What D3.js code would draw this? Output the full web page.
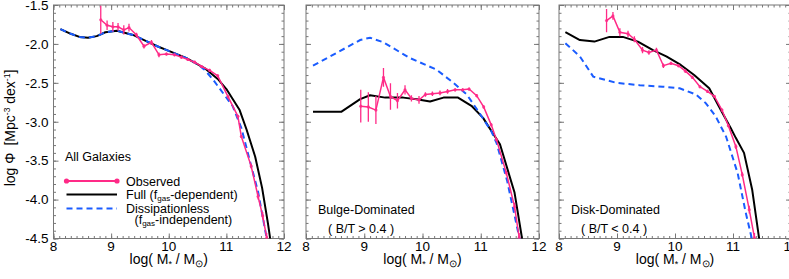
<!DOCTYPE html>
<html><head><meta charset="utf-8">
<script src="https://cdn.jsdelivr.net/npm/d3@7/dist/d3.min.js"></script>
<style>
html,body{margin:0;padding:0;background:#fff;}
svg text{font-family:"Liberation Sans",Arial,Helvetica,sans-serif;fill:#000;}
</style></head>
<body><svg id="c" width="789" height="279"></svg>
<script>
// ---------- data ----------
const xTicks = [8, 9, 10, 11, 12];
const yTicks = [-1.5, -2.0, -2.5, -3.0, -3.5, -4.0, -4.5];
const panelLabels = [["All Galaxies"], ["Bulge-Dominated", "( B/T > 0.4 )"], ["Disk-Dominated", "( B/T < 0.4 )"]];

// All galaxies
const fullAllX = [8.12, 8.3, 8.45, 8.6, 8.75, 8.9, 9.1, 9.38, 9.6, 9.8, 10.0, 10.3, 10.62, 10.85, 11.0, 11.23, 11.35, 11.5, 11.62, 11.72, 11.77];
const fullAllY = [-1.81, -1.87, -1.91, -1.92, -1.90, -1.85, -1.83, -1.885, -1.96, -2.03, -2.09, -2.18, -2.31, -2.45, -2.58, -2.85, -3.1, -3.45, -3.85, -4.3, -4.55];
const dissAllX = [8.12, 8.3, 8.45, 8.6, 8.75, 8.9, 9.1, 9.38, 9.6, 9.8, 10.0, 10.3, 10.5, 10.62, 10.77, 11.11, 11.26, 11.4, 11.55, 11.7];
const dissAllY = [-1.81, -1.87, -1.91, -1.92, -1.90, -1.85, -1.83, -1.885, -1.96, -2.03, -2.09, -2.18, -2.26, -2.33, -2.46, -2.80, -3.08, -3.48, -3.9, -4.5];
const obsAllX = [8.82, 8.93, 9.03, 9.12, 9.22, 9.31, 9.44, 9.57, 9.70, 9.83, 9.96, 10.10, 10.22, 10.33, 10.45, 10.57, 10.71, 10.85, 11.03, 11.20, 11.26, 11.43, 11.55, 11.63, 11.70];
const obsAllY = [-1.69, -1.76, -1.78, -1.78, -1.82, -1.79, -1.885, -2.03, -1.98, -2.14, -2.13, -2.14, -2.17, -2.20, -2.235, -2.29, -2.34, -2.41, -2.68, -2.93, -3.19, -3.57, -3.96, -4.21, -4.49];
const obsAllE = [0.18, 0.06, 0.06, 0.05, 0.06, 0.05, 0.03, 0.03, 0.03, 0.03, 0.02, 0.02, 0.02, 0.02, 0.02, 0.02, 0.02, 0.02, 0.02, 0.02, 0.02, 0.03, 0.04, 0.05, 0.06];

// Bulge-dominated
const fullBulgeX = [8.12, 8.61, 8.93, 9.10, 9.36, 9.67, 9.90, 10.13, 10.36, 10.61, 10.84, 11.04, 11.21, 11.33, 11.58, 11.72];
const fullBulgeY = [-2.87, -2.87, -2.71, -2.66, -2.69, -2.69, -2.71, -2.74, -2.69, -2.69, -2.795, -2.95, -3.15, -3.29, -3.91, -4.55];
const dissBulgeX = [8.12, 8.93, 9.10, 9.33, 9.78, 10.24, 10.53, 10.76, 10.98, 11.18, 11.27, 11.45, 11.68];
const dissBulgeY = [-2.28, -1.95, -1.92, -1.98, -2.18, -2.33, -2.50, -2.65, -2.89, -3.12, -3.27, -3.75, -4.55];
const obsBulgeX = [8.94, 9.07, 9.20, 9.33, 9.45, 9.57, 9.70, 9.81, 9.94, 10.05, 10.17, 10.30, 10.43, 10.56, 10.69, 10.80, 10.93, 11.05, 11.18, 11.27, 11.44, 11.58, 11.66];
const obsBulgeY = [-2.80, -2.81, -2.85, -2.43, -2.675, -2.73, -2.59, -2.70, -2.72, -2.65, -2.64, -2.63, -2.61, -2.59, -2.59, -2.58, -2.665, -2.81, -3.04, -3.23, -3.66, -4.09, -4.49];
const obsBulgeE = [0.21, 0.19, 0.18, 0.12, 0.17, 0.10, 0.06, 0.04, 0.05, 0.03, 0.03, 0.03, 0.03, 0.02, 0.02, 0.02, 0.02, 0.02, 0.02, 0.02, 0.03, 0.05, 0.06];

// Disk-dominated
const fullDiskX = [8.11, 8.36, 8.61, 8.87, 9.10, 9.36, 9.62, 9.85, 10.10, 10.33, 10.59, 10.79, 10.96, 11.05, 11.19, 11.33, 11.46];
const fullDiskY = [-1.85, -1.95, -1.97, -1.91, -1.91, -1.97, -2.08, -2.16, -2.27, -2.40, -2.57, -2.85, -3.08, -3.21, -3.40, -3.87, -4.55];
const dissDiskX = [8.11, 8.36, 8.59, 8.99, 9.39, 9.79, 10.08, 10.36, 10.53, 10.70, 10.88, 11.08, 11.22, 11.34];
const dissDiskY = [-1.99, -2.16, -2.42, -2.50, -2.53, -2.55, -2.57, -2.65, -2.76, -2.93, -3.19, -3.66, -4.17, -4.55];
const obsDiskX = [8.82, 8.93, 9.05, 9.19, 9.30, 9.44, 9.55, 9.68, 9.80, 9.93, 10.06, 10.18, 10.30, 10.43, 10.56, 10.68, 10.81, 10.92, 11.05, 11.16, 11.28, 11.37];
const obsDiskY = [-1.70, -1.64, -1.85, -1.87, -1.94, -2.08, -2.11, -2.08, -2.28, -2.25, -2.28, -2.35, -2.43, -2.55, -2.61, -2.675, -2.85, -3.05, -3.32, -3.68, -4.13, -4.49];
const obsDiskE = [0.15, 0.05, 0.05, 0.04, 0.04, 0.04, 0.03, 0.03, 0.03, 0.02, 0.02, 0.02, 0.02, 0.02, 0.02, 0.02, 0.02, 0.02, 0.03, 0.03, 0.05, 0.06];

const series = [
  {full:[fullAllX, fullAllY], diss:[dissAllX, dissAllY], obs:[obsAllX, obsAllY, obsAllE]},
  {full:[fullBulgeX, fullBulgeY], diss:[dissBulgeX, dissBulgeY], obs:[obsBulgeX, obsBulgeY, obsBulgeE]},
  {full:[fullDiskX, fullDiskY], diss:[dissDiskX, dissDiskY], obs:[obsDiskX, obsDiskY, obsDiskE]}
];

// ---------- layout ----------
const PINK = "#ff2a87", BLUE = "#1a5cff", AXIS = "#777";
const panels = [{x0:53.5, x1:284}, {x0:306, x1:539}, {x0:559, x1:791}];
const yTop = 5, yBot = 238.5;
const svg = d3.select("#c");
const y = d3.scaleLinear().domain([-1.5, -4.5]).range([yTop, yBot]);
const xMinor = d3.range(80, 121).map(v => v / 10);
const yMinor = d3.range(15, 46).map(v => -v / 10);
const zip = (a, b, c) => a.map((v, i) => c ? [v, b[i], c[i]] : [v, b[i]]);

panels.forEach((p, i) => {
  const x = d3.scaleLinear().domain([8, 12]).range([p.x0, p.x1]);
  const g = svg.append("g");
  const clipId = "clip" + i;
  svg.append("clipPath").attr("id", clipId).append("rect")
    .attr("x", p.x0).attr("y", yTop).attr("width", p.x1 - p.x0).attr("height", yBot - yTop);

  g.append("rect").attr("x", p.x0).attr("y", yTop).attr("width", p.x1 - p.x0).attr("height", yBot - yTop)
    .attr("fill", "none").attr("stroke", AXIS).attr("stroke-width", 1);

  const axisStyle = sel => { sel.select(".domain").remove(); sel.selectAll("line").attr("stroke", AXIS); sel.selectAll("text").remove(); };
  g.append("g").attr("transform", `translate(0,${yBot})`).call(d3.axisBottom(x).tickValues(xMinor).tickSize(-2.5)).call(axisStyle);
  g.append("g").attr("transform", `translate(0,${yBot})`).call(d3.axisBottom(x).tickValues(xTicks).tickSize(-5)).call(axisStyle);
  g.append("g").attr("transform", `translate(0,${yTop})`).call(d3.axisTop(x).tickValues(xMinor).tickSize(-2.5)).call(axisStyle);
  g.append("g").attr("transform", `translate(0,${yTop})`).call(d3.axisTop(x).tickValues(xTicks).tickSize(-5)).call(axisStyle);
  g.append("g").attr("transform", `translate(${p.x0},0)`).call(d3.axisLeft(y).tickValues(yMinor).tickSize(-2.5)).call(axisStyle);
  g.append("g").attr("transform", `translate(${p.x0},0)`).call(d3.axisLeft(y).tickValues(yTicks).tickSize(-5)).call(axisStyle);
  g.append("g").attr("transform", `translate(${p.x1},0)`).call(d3.axisRight(y).tickValues(yMinor).tickSize(-2.5)).call(axisStyle);
  g.append("g").attr("transform", `translate(${p.x1},0)`).call(d3.axisRight(y).tickValues(yTicks).tickSize(-5)).call(axisStyle);

  g.selectAll(".xl").data(xTicks).enter().append("text")
    .attr("x", d => x(d)).attr("y", 250.5).attr("text-anchor", "middle").attr("font-size", 13.5).text(d => d);
  if (i === 0) {
    g.selectAll(".yl").data(yTicks).enter().append("text")
      .attr("x", 48.5).attr("y", d => y(d) + 4.8).attr("text-anchor", "end").attr("font-size", 13.5).text(d => d.toFixed(1));
  }

  const tx = (p.x0 + p.x1) / 2;
  const t = g.append("text").attr("x", tx).attr("y", 264).attr("text-anchor", "middle").attr("font-size", 14);
  t.append("tspan").text("log( M");
  t.append("tspan").attr("font-size", 9).attr("dy", 2.5).text("*");
  t.append("tspan").attr("dy", -2.5).text(" / M");
  t.append("tspan").attr("font-size", 10).attr("dy", 2.5).text("\u2299");
  t.append("tspan").attr("dy", -2.5).text(")");

  const s = series[i];
  const plot = g.append("g").attr("clip-path", `url(#${clipId})`);
  const line = d3.line().x(d => x(d[0])).y(d => y(d[1]));
  plot.append("path").attr("d", line(zip(s.full[0], s.full[1])))
    .attr("fill", "none").attr("stroke", "#000").attr("stroke-width", 2).attr("stroke-linejoin", "round");
  plot.append("path").attr("d", line(zip(s.diss[0], s.diss[1])))
    .attr("fill", "none").attr("stroke", BLUE).attr("stroke-width", 2).attr("stroke-dasharray", "6,4");
  const obs = zip(s.obs[0], s.obs[1], s.obs[2]);
  plot.append("path").attr("d", line(obs))
    .attr("fill", "none").attr("stroke", PINK).attr("stroke-width", 1.5);
  plot.selectAll(".eb").data(obs).enter().append("line")
    .attr("x1", d => x(d[0])).attr("x2", d => x(d[0]))
    .attr("y1", d => y(d[1] + d[2])).attr("y2", d => y(d[1] - d[2]))
    .attr("stroke", PINK).attr("stroke-width", 1.3);
  plot.selectAll(".pt").data(obs).enter().append("circle")
    .attr("cx", d => x(d[0])).attr("cy", d => y(d[1])).attr("r", 1.6).attr("fill", PINK).attr("opacity", 0.8);

  const lab = panelLabels[i];
  if (i === 0) {
    g.append("text").attr("x", 65).attr("y", 161).attr("font-size", 12.5).text(lab[0]);
  } else {
    g.append("text").attr("x", p.x0 + 12).attr("y", 213.5).attr("font-size", 12.5).text(lab[0]);
    g.append("text").attr("x", p.x0 + 22).attr("y", 232.5).attr("font-size", 12.5).text(lab[1]);
  }
});

// legend
const lg = svg.append("g");
lg.append("line").attr("x1", 66.5).attr("x2", 117).attr("y1", 181).attr("y2", 181).attr("stroke", PINK).attr("stroke-width", 2);
[66.5, 117].forEach(cx => lg.append("circle").attr("cx", cx).attr("cy", 181).attr("r", 2.6).attr("fill", PINK));
lg.append("text").attr("x", 126).attr("y", 185.5).attr("font-size", 12.5).text("Observed");
lg.append("line").attr("x1", 66.5).attr("x2", 117).attr("y1", 194.5).attr("y2", 194.5).attr("stroke", "#000").attr("stroke-width", 2);
const f1 = lg.append("text").attr("x", 126).attr("y", 198.5).attr("font-size", 12.5);
f1.append("tspan").text("Full (f");
f1.append("tspan").attr("font-size", 8).attr("dy", 2).text("gas");
f1.append("tspan").attr("dy", -2).text("-dependent)");
lg.append("line").attr("x1", 66.5).attr("x2", 117).attr("y1", 208.5).attr("y2", 208.5).attr("stroke", BLUE).attr("stroke-width", 2).attr("stroke-dasharray", "6,4");
lg.append("text").attr("x", 126).attr("y", 212.5).attr("font-size", 12.5).text("Dissipationless");
const f2 = lg.append("text").attr("x", 134.5).attr("y", 224).attr("font-size", 12.5);
f2.append("tspan").text("(f");
f2.append("tspan").attr("font-size", 8).attr("dy", 2).text("gas");
f2.append("tspan").attr("dy", -2).text("-independent)");

// y title
const yt = svg.append("text").attr("transform", "translate(15,128) rotate(-90)").attr("text-anchor", "middle").attr("font-size", 14);
yt.append("tspan").text("log \u03A6");
yt.append("tspan").attr("dx", 7).text("[Mpc");
yt.append("tspan").attr("font-size", 8.5).attr("dy", -5).text("-3");
yt.append("tspan").attr("dy", 5).text(" dex");
yt.append("tspan").attr("font-size", 8.5).attr("dy", -5).text("-1");
yt.append("tspan").attr("dy", 5).text("]");
</script></body></html>
